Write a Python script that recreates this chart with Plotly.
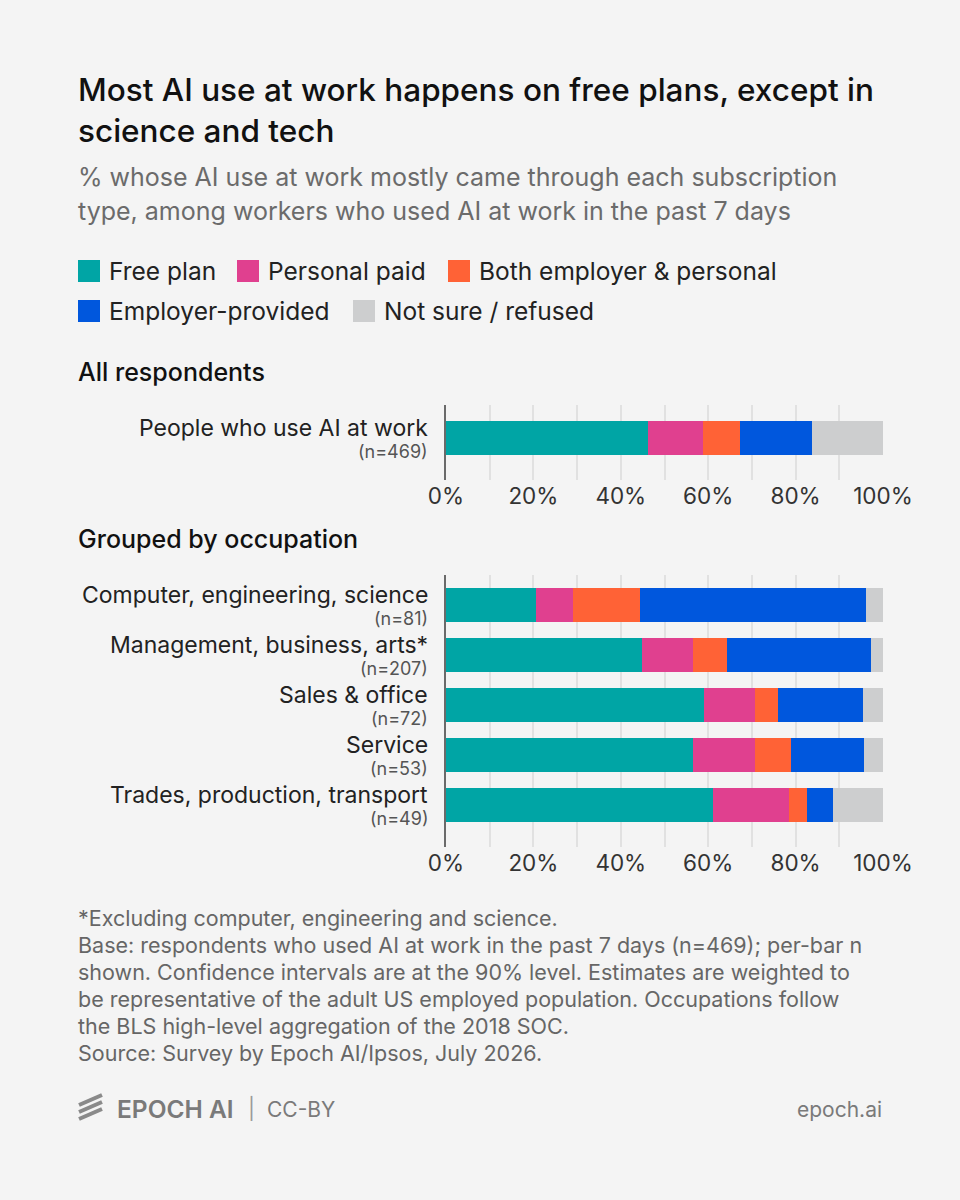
import plotly.graph_objects as go

# ---------------- data ----------------
series = ["Free plan", "Personal paid", "Both employer & personal", "Employer-provided", "Not sure / refused"]
colors = ["#00A5A5", "#E0408F", "#FF6236", "#0057DD", "#CDCECF"]

all_label = ["People who use AI at work"]
all_n = ["(n=469)"]
all_values = {
    "Free plan": [46.3],
    "Personal paid": [12.5],
    "Both employer & personal": [8.4],
    "Employer-provided": [16.5],
    "Not sure / refused": [16.3],
}

occ_labels = ["Computer, engineering, science", "Management, business, arts*", "Sales & office",
              "Service", "Trades, production, transport"]
occ_n = ["(n=81)", "(n=207)", "(n=72)", "(n=53)", "(n=49)"]
free_plan = [20.7, 44.9, 59.1, 56.6, 61.1]
personal_paid = [8.4, 11.7, 11.7, 14.2, 17.5]
both = [15.4, 7.6, 5.2, 8.1, 4.0]
employer = [51.6, 33.0, 19.4, 16.8, 5.9]
not_sure = [3.9, 2.8, 4.6, 4.3, 11.5]
occ_values = {
    "Free plan": free_plan,
    "Personal paid": personal_paid,
    "Both employer & personal": both,
    "Employer-provided": employer,
    "Not sure / refused": not_sure,
}

tick_vals = [0, 20, 40, 60, 80, 100]
tick_text = ["0%", "20%", "40%", "60%", "80%", "100%"]

# ---------------- figure ----------------
W, H = 960, 1200
FONT = "Inter"
BG = "#F4F4F4"

def px(x):
    return x / W

def py(y):
    return 1 - y / H

fig = go.Figure()
for s, c in zip(series, colors):
    fig.add_trace(go.Bar(x=all_values[s], y=all_label, orientation="h", marker=dict(color=c, line=dict(width=0)),
                         name=s, showlegend=False, xaxis="x", yaxis="y", width=0.68, hoverinfo="skip"))
    fig.add_trace(go.Bar(x=occ_values[s], y=occ_labels, orientation="h", marker=dict(color=c, line=dict(width=0)),
                         name=s, showlegend=False, xaxis="x2", yaxis="y2", width=0.68, hoverinfo="skip"))

xdom = [446 / W, 883 / W]
xaxis_common = dict(
    range=[0, 100], tickvals=tick_vals, ticktext=tick_text, showgrid=True, gridcolor="#E1E1E1", gridwidth=1.5,
    minor=dict(dtick=10, showgrid=True, gridcolor="#E1E1E1", gridwidth=1.5), zeroline=False, showline=False,
    ticks="", tickfont=dict(family=FONT, size=22.5, color="#333333"), fixedrange=True, domain=xdom,
    automargin=False,
)
fig.update_layout(
    template="none",
    xaxis=dict(anchor="y", **xaxis_common),
    xaxis2=dict(anchor="y2", **xaxis_common),
    yaxis=dict(domain=[py(480), py(405)], range=[0.84, -0.66], showticklabels=False, showgrid=False,
               showline=True, linecolor="#6A6A6A", linewidth=2, zeroline=False, anchor="x", automargin=False,
               fixedrange=True, ticks=""),
    yaxis2=dict(domain=[py(847), py(575)], range=[4.84, -0.6], showticklabels=False, showgrid=False,
                showline=True, linecolor="#6A6A6A", linewidth=2, zeroline=False, anchor="x2", automargin=False,
                fixedrange=True, ticks=""),
    barmode="stack",
    width=W, height=H, autosize=False,
    margin=dict(l=0, r=0, t=0, b=0, pad=0, autoexpand=False),
    paper_bgcolor=BG, plot_bgcolor=BG,
    showlegend=False,
)

ann = []

def text(x, y, t, size, color, weight=400, anchor="left"):
    ann.append(dict(x=px(x), y=py(y), xref="paper", yref="paper", text=t, showarrow=False,
                    xanchor=anchor, yanchor="middle", font=dict(family=FONT, size=size, color=color, weight=weight)))

# title + subtitle
text(76, 89, "Most AI use at work happens on free plans, except in", 31.5, "#111111", 500)
text(76, 131, "science and tech", 31.5, "#111111", 500)
text(76, 177, "% whose AI use at work mostly came through each subscription", 25, "#6B6B6B")
text(76, 211, "type, among workers who used AI at work in the past 7 days", 25, "#6B6B6B")

# legend
legend_items = [(78, 271, 0), (237, 271, 1), (448, 271, 2), (78, 311, 3), (353, 311, 4)]
shapes = []
for lx, ly, i in legend_items:
    shapes.append(dict(type="rect", xref="paper", yref="paper", x0=px(lx), x1=px(lx + 22), y0=py(ly + 11), y1=py(ly - 11),
                       fillcolor=colors[i], line=dict(width=0)))
    text(lx + 29, ly, series[i], 24.5, "#222222")

# section headers
text(76, 372, "All respondents", 25, "#111111", 500)
text(76, 539, "Grouped by occupation", 25, "#111111", 500)

# category labels
for lab, n in zip(all_label, all_n):
    ann.append(dict(x=0, y=lab, xref="x", yref="y", text=lab, showarrow=False, xanchor="right", yanchor="middle",
                    xshift=-16, yshift=10, font=dict(family=FONT, size=23, color="#222222")))
    ann.append(dict(x=0, y=lab, xref="x", yref="y", text=n, showarrow=False, xanchor="right", yanchor="middle",
                    xshift=-16, yshift=-13, font=dict(family=FONT, size=18, color="#555555")))
for lab, n in zip(occ_labels, occ_n):
    ann.append(dict(x=0, y=lab, xref="x2", yref="y2", text=lab, showarrow=False, xanchor="right", yanchor="middle",
                    xshift=-16, yshift=10, font=dict(family=FONT, size=23, color="#222222")))
    ann.append(dict(x=0, y=lab, xref="x2", yref="y2", text=n, showarrow=False, xanchor="right", yanchor="middle",
                    xshift=-16, yshift=-13, font=dict(family=FONT, size=18, color="#555555")))

# footnotes
notes = [
    "*Excluding computer, engineering and science.",
    "Base: respondents who used AI at work in the past 7 days (n=469); per-bar n",
    "shown. Confidence intervals are at the 90% level. Estimates are weighted to",
    "be representative of the adult US employed population. Occupations follow",
    "the BLS high-level aggregation of the 2018 SOC.",
    "Source: Survey by Epoch AI/Ipsos, July 2026.",
]
for i, t in enumerate(notes):
    text(76, 918 + 27 * i, t, 21.5, "#666666")

# footer
for k in range(3):
    shapes.append(dict(type="line", xref="paper", yref="paper", x0=px(79), y0=py(1105 + 7 * k),
                       x1=px(102), y1=py(1095 + 7 * k), line=dict(color="#8A8A8A", width=4)))
text(115, 1109, "EPOCH AI", 24.5, "#7A7A7A", 600)
text(246, 1108, "|", 21, "#9A9A9A")
text(265, 1109, "CC-BY", 21, "#7A7A7A")
text(884, 1109, "epoch.ai", 21, "#7A7A7A", 400, "right")

fig.update_layout(annotations=ann, shapes=shapes)
fig.write_html("out.html", config={"displayModeBar": False, "responsive": False},
               post_script="document.body.style.margin='0';document.body.style.overflow='hidden';")
